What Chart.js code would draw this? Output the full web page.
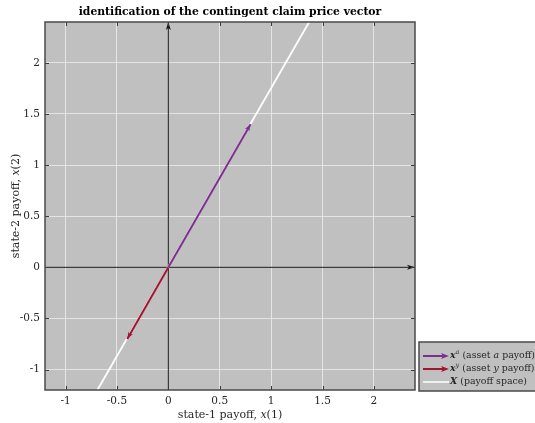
<!DOCTYPE html>
<html>
<head>
<meta charset="utf-8">
<script src="https://cdn.jsdelivr.net/npm/chart.js@4.4.1/dist/chart.umd.min.js"></script>
<style>
  html, body { margin: 0; padding: 0; background: #ffffff; }
  #wrap { width: 535px; height: 423px; }
</style>
</head>
<body>
<div id="wrap"><canvas id="grafico" width="535" height="423"></canvas></div>
<script>
// valores
var tickValores = [-1, -0.5, 0, 0.5, 1, 1.5, 2];
var tickRotulos = ['-1', '-0.5', '0', '0.5', '1', '1.5', '2'];
var limitesX = [-1.2, 2.4];
var limitesY = [-1.2, 2.4];
var ativoA = [0.8, 1.4];      // x^a
var ativoY = [-0.4, -0.7];    // x^y
var espacoX = [-0.69, 1.37];  // reta X
var espacoY = [-1.2, 2.4];

var FONTE = "'DejaVu Serif', serif";
var ROXO = '#7e2f8e';
var VERMELHO = '#a2142f';

function desenharRico(ctx, partes, x, y, alinhar) {
    var total = 0;
    partes.forEach(function (p) { ctx.font = p.f; total += ctx.measureText(p.t).width; });
    var cx = alinhar === 'center' ? x - total / 2 : x;
    ctx.textAlign = 'left';
    partes.forEach(function (p) {
        ctx.font = p.f;
        ctx.fillText(p.t, cx, y + (p.dy || 0));
        cx += ctx.measureText(p.t).width;
    });
}

function ponta(ctx, x0, y0, x1, y1, cor, comp, larg) {
    var a = Math.atan2(y1 - y0, x1 - x0);
    ctx.save();
    ctx.translate(x1, y1);
    ctx.rotate(a);
    ctx.fillStyle = cor;
    ctx.beginPath();
    ctx.moveTo(0, 0);
    ctx.lineTo(-comp, -larg / 2);
    ctx.lineTo(-comp * 0.75, 0);
    ctx.lineTo(-comp, larg / 2);
    ctx.closePath();
    ctx.fill();
    ctx.restore();
}

var pluginExtras = {
    id: 'extras',
    beforeDraw: function (chart) {
        var ctx = chart.ctx, a = chart.chartArea;
        ctx.save();
        ctx.fillStyle = '#c0c0c0';
        ctx.fillRect(a.left, a.top, a.right - a.left, a.bottom - a.top);
        ctx.restore();
    },
    afterDatasetsDraw: function (chart) {
        var ctx = chart.ctx, a = chart.chartArea;
        chart.data.datasets.forEach(function (ds, i) {
            if (!ds.seta) return;
            var pts = chart.getDatasetMeta(i).data;
            var p0 = pts[pts.length - 2], p1 = pts[pts.length - 1];
            ponta(ctx, p0.x, p0.y, p1.x, p1.y, ds.borderColor, ds.seta[0], ds.seta[1]);
        });
        var sx = chart.scales.x, sy = chart.scales.y;
        ctx.save();
        // marcas dos ticks
        ctx.strokeStyle = '#3a3a3a';
        ctx.lineWidth = 1;
        ctx.beginPath();
        tickValores.forEach(function (v) {
            var px = Math.round(sx.getPixelForValue(v)) + 0.5;
            ctx.moveTo(px, a.bottom); ctx.lineTo(px, a.bottom - 4);
            ctx.moveTo(px, a.top); ctx.lineTo(px, a.top + 4);
            var py = Math.round(sy.getPixelForValue(v)) + 0.5;
            ctx.moveTo(a.left, py); ctx.lineTo(a.left + 4, py);
            ctx.moveTo(a.right, py); ctx.lineTo(a.right - 4, py);
        });
        ctx.stroke();
        // moldura
        ctx.strokeStyle = '#4a4a4a';
        ctx.lineWidth = 1.5;
        ctx.strokeRect(a.left, a.top, a.right - a.left, a.bottom - a.top);

        // titulo
        ctx.fillStyle = '#000000';
        ctx.textBaseline = 'middle';
        ctx.textAlign = 'center';
        ctx.font = 'bold 10.8px ' + FONTE;
        ctx.fillText('identification of the contingent claim price vector', (a.left + a.right) / 2, 12);

        // titulos dos eixos
        ctx.fillStyle = '#262626';
        var normal = '11px ' + FONTE, ital = 'italic 11px ' + FONTE;
        desenharRico(ctx, [
            { t: 'state-1 payoff, ', f: normal }, { t: 'x', f: ital }, { t: '(1)', f: normal }
        ], (a.left + a.right) / 2, 415, 'center');
        ctx.save();
        ctx.translate(16, (a.top + a.bottom) / 2);
        ctx.rotate(-Math.PI / 2);
        desenharRico(ctx, [
            { t: 'state-2 payoff, ', f: normal }, { t: 'x', f: ital }, { t: '(2)', f: normal }
        ], 0, 0, 'center');
        ctx.restore();

        // legenda
        var lx = 419, ly = 342, lw = 120, lh = 49;
        ctx.fillStyle = '#c0c0c0';
        ctx.fillRect(lx, ly, lw, lh);
        ctx.strokeStyle = '#4a4a4a';
        ctx.lineWidth = 1.5;
        ctx.strokeRect(lx, ly, lw, lh);
        var tam = 9.4;
        var itens = [
            { cor: ROXO, seta: true, partes: [
                { t: 'x', f: 'bold italic ' + tam + 'px ' + FONTE }, { t: 'a', f: 'italic 6.5px ' + FONTE, dy: -4 },
                { t: ' (asset ', f: tam + 'px ' + FONTE }, { t: 'a', f: 'italic ' + tam + 'px ' + FONTE }, { t: ' payoff)', f: tam + 'px ' + FONTE }] },
            { cor: VERMELHO, seta: true, partes: [
                { t: 'x', f: 'bold italic ' + tam + 'px ' + FONTE }, { t: 'y', f: 'italic 6.5px ' + FONTE, dy: -4 },
                { t: ' (asset ', f: tam + 'px ' + FONTE }, { t: 'y', f: 'italic ' + tam + 'px ' + FONTE }, { t: ' payoff)', f: tam + 'px ' + FONTE }] },
            { cor: '#ffffff', seta: false, partes: [
                { t: 'X', f: 'bold italic ' + tam + 'px ' + FONTE }, { t: ' (payoff space)', f: tam + 'px ' + FONTE }] }
        ];
        itens.forEach(function (it, k) {
            var yy = ly + 14 + k * 13;
            ctx.strokeStyle = it.cor;
            ctx.lineWidth = it.seta ? 2 : 1.5;
            ctx.beginPath();
            ctx.moveTo(lx + 4, yy); ctx.lineTo(lx + (it.seta ? 26 : 30), yy);
            ctx.stroke();
            if (it.seta) ponta(ctx, lx + 4, yy, lx + 30, yy, it.cor, 8, 6);
            ctx.fillStyle = '#262626';
            desenharRico(ctx, it.partes, lx + 31, yy, 'left');
        });
        ctx.restore();
    }
};

function linha(xs, ys) {
    return xs.map(function (v, i) { return { x: v, y: ys[i] }; });
}

new Chart(document.getElementById('grafico'), {
    type: 'scatter',
    data: {
        datasets: [{
            label: 'eixo x',
            data: linha(limitesX, [0, 0]),
            borderColor: '#1a1a1a',
            borderWidth: 1,
            showLine: true,
            pointRadius: 0,
            order: 3,
            seta: [8, 5]
        }, {
            label: 'eixo y',
            data: linha([0, 0], limitesY),
            borderColor: '#1a1a1a',
            borderWidth: 1,
            showLine: true,
            pointRadius: 0,
            order: 3,
            seta: [8, 5]
        }, {
            label: 'X (payoff space)',
            data: linha(espacoX, espacoY),
            borderColor: '#ffffff',
            borderWidth: 1.8,
            showLine: true,
            pointRadius: 0,
            order: 2
        }, {
            label: 'x^a (asset a payoff)',
            data: linha([0, ativoA[0]], [0, ativoA[1]]),
            borderColor: ROXO,
            borderWidth: 2,
            showLine: true,
            pointRadius: 0,
            order: 1,
            seta: [7, 5]
        }, {
            label: 'x^y (asset y payoff)',
            data: linha([0, ativoY[0]], [0, ativoY[1]]),
            borderColor: VERMELHO,
            borderWidth: 2,
            showLine: true,
            pointRadius: 0,
            order: 1,
            seta: [7, 5]
        }]
    },
    options: {
        responsive: false,
        animation: false,
        layout: { padding: { left: 0, right: 120, top: 22, bottom: 0 } },
        plugins: {
            legend: { display: false },
            tooltip: { enabled: false }
        },
        scales: {
            x: {
                type: 'linear',
                min: limitesX[0],
                max: limitesX[1],
                afterBuildTicks: function (s) { s.ticks = tickValores.map(function (v) { return { value: v }; }); },
                afterFit: function (s) { s.height = 33; },
                ticks: {
                    padding: 5,
                    color: '#262626',
                    font: { family: FONTE, size: 10.5 },
                    callback: function (v) { return tickRotulos[tickValores.indexOf(v)]; }
                },
                grid: { color: '#e4e4e4', lineWidth: 1, drawTicks: false },
                border: { display: false }
            },
            y: {
                type: 'linear',
                min: limitesY[0],
                max: limitesY[1],
                afterBuildTicks: function (s) { s.ticks = tickValores.map(function (v) { return { value: v }; }); },
                afterFit: function (s) { s.width = 45; },
                ticks: {
                    padding: 5,
                    color: '#262626',
                    font: { family: FONTE, size: 10.5 },
                    callback: function (v) { return tickRotulos[tickValores.indexOf(v)]; }
                },
                grid: { color: '#e4e4e4', lineWidth: 1, drawTicks: false },
                border: { display: false }
            }
        }
    },
    plugins: [pluginExtras]
});
</script>
</body>
</html>
